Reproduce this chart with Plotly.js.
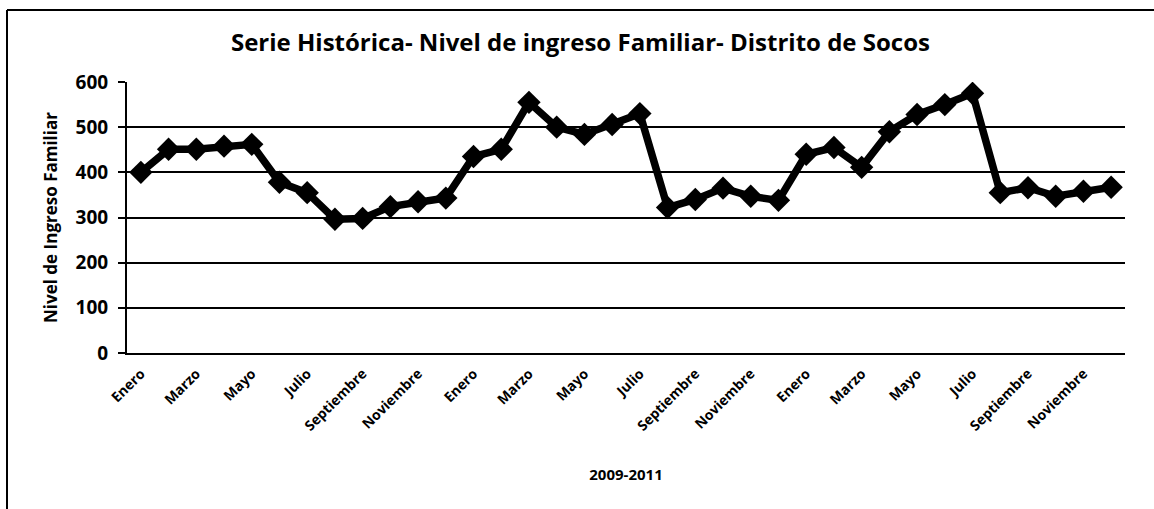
<!DOCTYPE html>
<html>
<head>
<meta charset="utf-8">
<script src="https://cdn.plot.ly/plotly-3.0.1.min.js"></script>
<style>
  html, body { margin: 0; padding: 0; background: #ffffff; }
  #chart { width: 1154px; height: 509px; }
</style>
</head>
<body>
<div id="chart"></div>
<script>
// ---- Data (2009-2011, monthly) ----
const months = [
  "Enero","Febrero","Marzo","Abril","Mayo","Junio","Julio","Agosto","Septiembre","Octubre","Noviembre","Diciembre",
  "Enero","Febrero","Marzo","Abril","Mayo","Junio","Julio","Agosto","Septiembre","Octubre","Noviembre","Diciembre",
  "Enero","Febrero","Marzo","Abril","Mayo","Junio","Julio","Agosto","Septiembre","Octubre","Noviembre","Diciembre"
];
const ingreso = [
  400, 451, 451, 458, 462, 378, 355, 296, 298, 324, 335, 343,
  435, 451, 555, 500, 484, 506, 530, 322, 340, 365, 347, 338,
  440, 455, 411, 490, 528, 550, 575, 355, 366, 347, 358, 367
];
const yTicks = [0, 100, 200, 300, 400, 500, 600];

const chartTitle = "Serie Histórica- Nivel de ingreso Familiar- Distrito de Socos";
const xTitle = "2009-2011";
const yTitle = "Nivel de Ingreso Familiar";

// index positions for the categories, ticks on every other month
const idx = months.map((m, i) => i);
const tickIdx = idx.filter(i => i % 2 === 0);
const tickTxt = tickIdx.map(i => months[i]);

const FONT = "'Open Sans', 'Liberation Sans', Arial, sans-serif";

const trace = {
  type: "scatter",
  mode: "lines+markers",
  x: idx,
  y: ingreso,
  text: months,
  line: { color: "#000000", width: 7.5 },
  marker: { symbol: "diamond", size: 18, color: "#000000", line: { width: 0 } },
  hoverinfo: "text+y"
};

// frame lines (left and top) around the chart area
const L = 127, R = 1125, T = 82, B = 353;
const px2x = p => (p - L) / (R - L);
const py2y = p => (B - p) / (B - T);

const layout = {
  width: 1154,
  height: 509,
  margin: { l: L, r: 1154 - R, t: T, b: 509 - B },
  paper_bgcolor: "#ffffff",
  plot_bgcolor: "#ffffff",
  showlegend: false,
  font: { family: FONT, color: "#000000" },
  title: {
    text: chartTitle,
    font: { family: FONT, size: 24, weight: "bold", color: "#000000" },
    x: 0.503, xanchor: "center",
    y: 1 - 43 / 509, yanchor: "middle"
  },
  xaxis: {
    range: [-0.5, 35.5],
    tickmode: "array",
    tickvals: tickIdx,
    ticktext: tickTxt,
    tickangle: -45,
    tickfont: { family: FONT, size: 14, weight: "bold", color: "#000000" },
    ticklabelstandoff: 5,
    showgrid: false,
    zeroline: false,
    showline: true,
    linecolor: "#000000",
    linewidth: 2,
    ticks: "",
    title: {
      text: xTitle,
      font: { family: FONT, size: 15, weight: "bold", color: "#000000" },
      standoff: 36
    }
  },
  yaxis: {
    range: [0, 600],
    tickmode: "array",
    tickvals: yTicks,
    ticktext: yTicks.map(String),
    tickfont: { family: FONT, size: 19, weight: "bold", color: "#000000" },
    ticks: "outside",
    ticklen: 7,
    tickwidth: 2,
    tickcolor: "#000000",
    showgrid: true,
    gridcolor: "#000000",
    gridwidth: 2,
    zeroline: false,
    showline: true,
    linecolor: "#000000",
    linewidth: 2,
    ticklabelstandoff: 6,
    title: {
      text: yTitle,
      font: { family: FONT, size: 17, weight: "bold", color: "#000000" },
      standoff: 14
    }
  },
  shapes: [
    { type: "line", xref: "paper", yref: "paper", layer: "below",
      x0: px2x(7), x1: px2x(7), y0: py2y(10), y1: py2y(512),
      line: { color: "#000000", width: 2 } },
    { type: "line", xref: "paper", yref: "paper", layer: "below",
      x0: px2x(7), x1: px2x(1160), y0: py2y(10), y1: py2y(10),
      line: { color: "#000000", width: 2 } }
  ]
};

Plotly.newPlot("chart", [trace], layout, { displayModeBar: false, staticPlot: true });
</script>
</body>
</html>
